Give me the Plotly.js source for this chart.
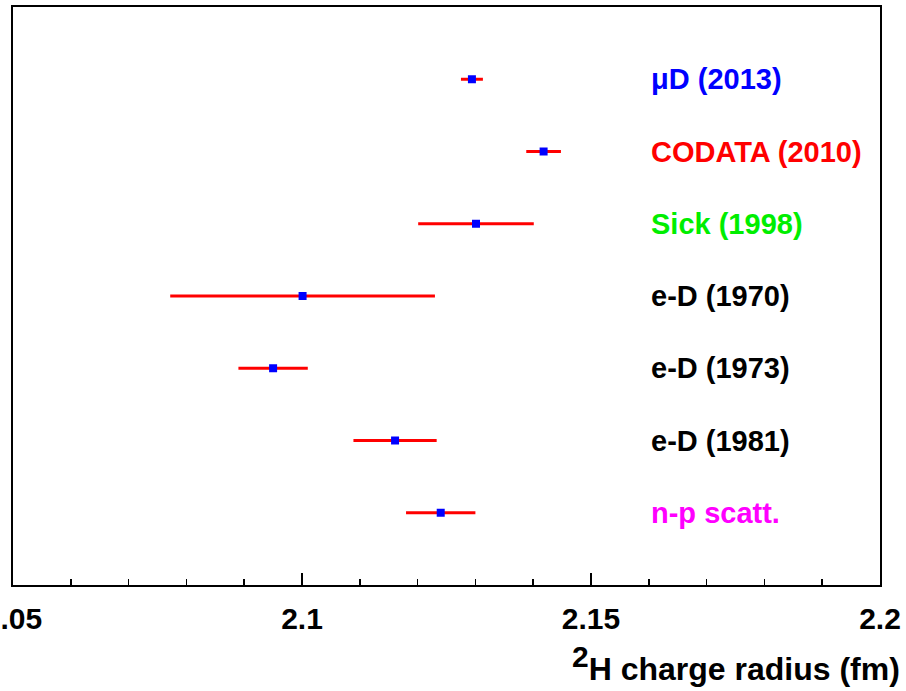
<!DOCTYPE html>
<html>
<head>
<meta charset="utf-8">
<script src="https://cdn.plot.ly/plotly-3.0.1.min.js"></script>
<style>html,body{margin:0;padding:0;background:#fff;}#chart{width:906px;height:691px;}</style>
</head>
<body>
<div id="chart"></div>
<script>
const labels = ["μD (2013)", "CODATA (2010)", "Sick (1998)", "e-D (1970)", "e-D (1973)", "e-D (1981)", "n-p scatt."];
const radius = [2.1294, 2.1418, 2.1301, 2.1001, 2.0950, 2.1161, 2.1240];
const errors = [0.0019, 0.0030, 0.0100, 0.0229, 0.0060, 0.0072, 0.0060];
const rows = [7, 6, 5, 4, 3, 2, 1];
const labelColors = ["#0000ff", "#ff0000", "#00ee00", "#000000", "#000000", "#000000", "#ff00ff"];
const labelX = 2.1600;
const xTickVals = [2.05, 2.1, 2.15, 2.2];
const xTickText = ["2.05", "2.1", "2.15", "2.2"];

const sans = "Liberation Sans, Arial, sans-serif";

const trace = {
  type: "scatter",
  mode: "markers",
  x: radius,
  y: rows,
  marker: {symbol: "square", size: 8, color: "#0000ff", line: {width: 0}},
  error_x: {type: "data", array: errors, color: "#ff0000", thickness: 3, width: 0},
  hoverinfo: "x"
};

const annotations = labels.map((t, i) => ({
  x: labelX, y: rows[i], xref: "x", yref: "y",
  text: t, showarrow: false, xanchor: "left", yanchor: "middle",
  font: {family: sans, size: 29, color: labelColors[i], weight: "bold"}
}));
annotations.push({
  x: 1.025, y: -0.135, xref: "paper", yref: "paper",
  text: "<sup><span style=\"font-size:30px\">2</span></sup>H charge radius (fm)", showarrow: false,
  xanchor: "right", yanchor: "middle",
  font: {family: sans, size: 32, color: "#000", weight: "bold"}
});

const layout = {
  width: 906, height: 691,
  margin: {l: 13, r: 26, t: 7, b: 106},
  paper_bgcolor: "#fff", plot_bgcolor: "#fff",
  showlegend: false,
  xaxis: {
    range: [2.05, 2.2],
    tickvals: xTickVals, ticktext: xTickText,
    ticks: "inside", ticklen: 12, tickwidth: 1.5, tickcolor: "#000",
    minor: {dtick: 0.01, tick0: 2.05, ticks: "inside", ticklen: 6, tickwidth: 1.5, tickcolor: "#000", showgrid: false},
    showline: true, linecolor: "#000", linewidth: 2, mirror: true,
    showgrid: false, zeroline: false,
    tickfont: {family: sans, size: 30, color: "#000", weight: "bold"},
    ticklabeloverflow: "allow",
    ticklabelstandoff: 6
  },
  yaxis: {
    range: [0, 8],
    showticklabels: false, ticks: "",
    showline: true, linecolor: "#000", linewidth: 2, mirror: true,
    showgrid: false, zeroline: false
  },
  annotations: annotations
};

Plotly.newPlot("chart", [trace], layout, {staticPlot: true, displayModeBar: false});
</script>
</body>
</html>
